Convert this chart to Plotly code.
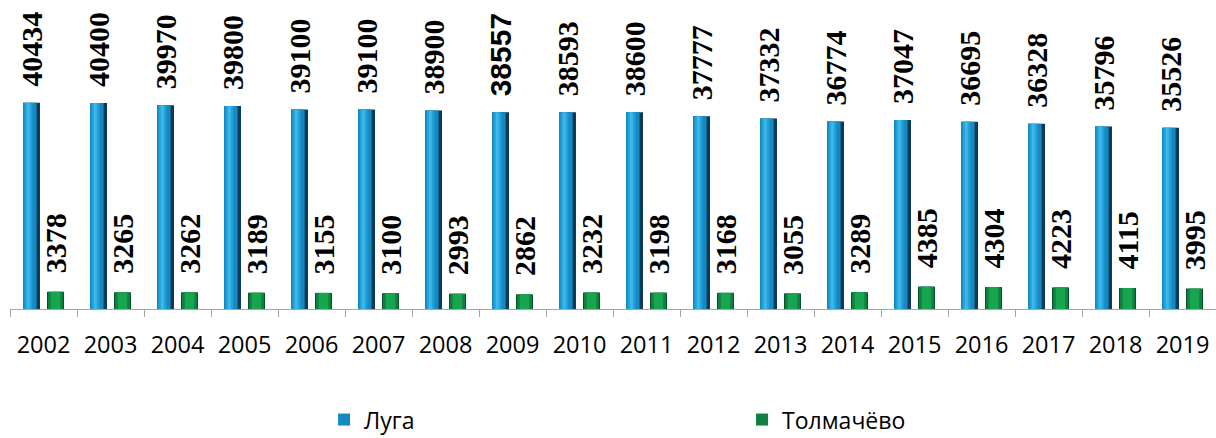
import plotly.graph_objects as go

years = ["2002", "2003", "2004", "2005", "2006", "2007", "2008", "2009", "2010",
         "2011", "2012", "2013", "2014", "2015", "2016", "2017", "2018", "2019"]
luga = [40434, 40400, 39970, 39800, 39100, 39100, 38900, 38557, 38593,
        38600, 37777, 37332, 36774, 37047, 36695, 36328, 35796, 35526]
tolmachevo = [3378, 3265, 3262, 3189, 3155, 3100, 2993, 2862, 3232,
              3198, 3168, 3055, 3289, 4385, 4304, 4223, 4115, 3995]

xpos = list(range(len(years)))

BW = 17 / 67  # bar width in category units
B_OFF = -0.5 + 13 / 67
G_OFF = -0.5 + 37 / 67

fig = go.Figure()

def layered(values, off, layers, name):
    for i, (rs, rw, col) in enumerate(layers):
        fig.add_trace(go.Bar(
            x=xpos, y=values, name=name,
            offset=off + rs * BW, width=rw * BW,
            marker=dict(color=col, line=dict(width=0)),
            showlegend=(i == 1), legendgroup=name,
            hoverinfo="skip",
        ))

blue_layers = [
    (0.0, 1.0, "#0b3b58"),
    (0.0, 0.8, "#1789c0"),
    (0.1, 0.45, "#23a2da"),
    (0.22, 0.18, "#3fb6e8"),
]
green_layers = [
    (0.0, 1.0, "#07522a"),
    (0.06, 0.88, "#0f813f"),
    (0.22, 0.56, "#17a550"),
]
layered(luga, B_OFF, blue_layers, "Луга")
layered(tolmachevo, G_OFF, green_layers, "Толмачёво")

SERIF = "Liberation Serif"
annotations = []
for xi, v in zip(xpos, luga):
    fam = "Liberation Sans Narrow, Liberation Sans" if v == 38557 else SERIF
    annotations.append(dict(x=xi, y=v, text=f"<b>{v}</b>", textangle=-90,
                            showarrow=False, xshift=-12, yshift=14,
                            yanchor="bottom", xanchor="center",
                            font=dict(family=fam, size=30, color="#000")))
for xi, v in zip(xpos, tolmachevo):
    annotations.append(dict(x=xi, y=v, text=f"<b>{v}</b>", textangle=-90,
                            showarrow=False, xshift=12, yshift=16,
                            yanchor="bottom", xanchor="center",
                            font=dict(family=SERIF, size=30, color="#000")))

fig.update_layout(
    width=1216, height=438,
    margin=dict(l=10, r=0, t=3, b=129),
    paper_bgcolor="white", plot_bgcolor="white",
    barmode="overlay",
    annotations=annotations,
    xaxis=dict(range=[-0.5, len(years) - 0.5], showline=True, linecolor="#a6a6a6",
               linewidth=1, tickmode="array", tickvals=xpos, ticktext=years,
               ticks="", tickangle=0,
               tickfont=dict(family="Open Sans", size=23.5, color="#000"),
               ticklabelstandoff=15, showgrid=False, zeroline=False,
               minor=dict(tickmode="array", tickvals=[i - 0.5 for i in range(len(years) + 1)],
                          ticks="outside", ticklen=7, tickcolor="#a6a6a6", showgrid=False)),
    yaxis=dict(range=[0, 60000], visible=False, showgrid=False, zeroline=False),
    legend=dict(orientation="h", xref="container", yref="container",
                x=0.2665, xanchor="left", y=0.042, yanchor="middle",
                font=dict(family="Open Sans", size=23, color="#000"),
                entrywidth=373, entrywidthmode="pixels", itemwidth=30,
                bgcolor="rgba(0,0,0,0)"),
    showlegend=True,
)

fig.write_html(
    "out.html",
    config={"displayModeBar": False},
    post_script="document.body.style.margin='0';document.body.style.overflow='hidden';",
)
